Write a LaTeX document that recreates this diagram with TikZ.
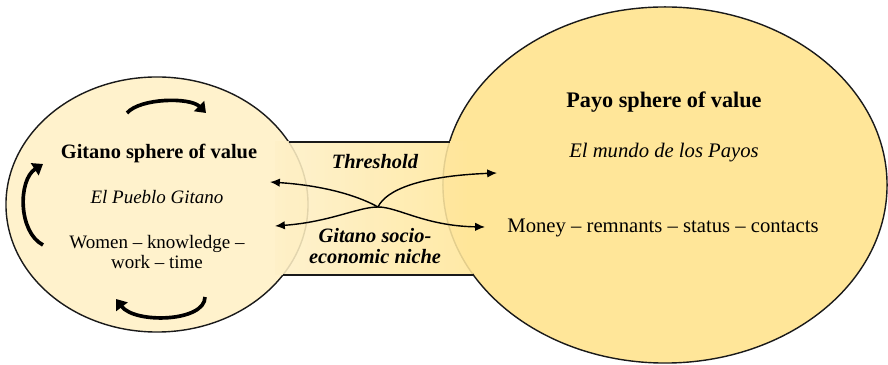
\documentclass[tikz,border=0pt]{standalone}
\usepackage{fontspec}
\setmainfont{Liberation Serif}
\usetikzlibrary{shapes.geometric,arrows.meta}
\definecolor{gitanoYellow}{HTML}{FFF2CC}
\definecolor{payoYellow}{HTML}{FFE699}
\definecolor{bandLight}{HTML}{FEF0C8}
\definecolor{lineGrey}{HTML}{1A1A1A}

\begin{document}
\begin{tikzpicture}[x=0.025cm, y=-0.025cm, >={Latex[length=7pt,width=6pt]}]

  \tikzstyle{S}=[ellipse, draw=lineGrey, line width=1pt, inner sep=0pt]
  \tikzstyle{L}=[font=\fontsize{13.5}{14.5}\selectfont, align=center]
  \tikzstyle{R}=[font=\fontsize{14.7}{16}\selectfont, align=center]
  \tikzstyle{M}=[font=\fontsize{14.5}{15.5}\selectfont\bfseries\itshape, align=center]
  \tikzstyle{cyc}=[line width=2.6pt, -{Triangle[length=7pt,width=10pt]}]
  \tikzstyle{swap}=[line width=1pt, <->]

  \useasboundingbox (0,0) rectangle (888,365);

  % the two spheres
  \node[S, fill=gitanoYellow, minimum width=7.55cm, minimum height=6.375cm] at (157,204.5) (gitano) {};
  \node[S, fill=payoYellow, minimum width=11.1cm, minimum height=8.9cm] at (665,185) (payo) {};

  % threshold band
  \shade[left color=bandLight, right color=payoYellow, fill opacity=0.88] (275,142) rectangle (473,275);
  \draw[lineGrey, line width=1pt] (288.6,142) -- (449.6,142);
  \draw[lineGrey, line width=1pt] (283,275) -- (473.5,275);

  % texts
  \node[L] at (159,153) (gitanoTitle) {\fontsize{14.5}{16}\selectfont\bfseries Gitano sphere of value};
  \node[L] at (157,197) (gitanoSub) {\itshape El Pueblo Gitano};
  \node[L] at (157,252) (gitanoGoods) {Women -- knowledge --\\work -- time};

  \node[R] at (664,102) (payoTitle) {\fontsize{15.8}{17}\selectfont\bfseries Payo sphere of value};
  \node[R] at (664,153) (payoSub) {\itshape El mundo de los Payos};
  \node[R] at (663,228) (payoGoods) {Money -- remnants -- status -- contacts};

  \node[M] at (375,162) (threshold) {Threshold};
  \node[M] at (375,246) (niche) {Gitano socio-\\economic niche};

  % exchange arrows
  \coordinate (uL) at (270,182);
  \coordinate (uR) at (497,173);
  \coordinate (lL) at (275,226);
  \coordinate (lR) at (485,227);
  \coordinate (cross) at (378,207);

  \draw[swap] (uL) .. controls (330,186) and (362,198) .. (cross) .. controls (386,190) and (420,176) .. (uR);
  \draw[swap] (lL) .. controls (330,222) and (358,207) .. (cross) .. controls (398,207) and (425,226) .. (lR);

  % circulation inside the Gitano sphere
  \coordinate (topS) at (127,113);
  \coordinate (topE) at (206,113);
  \coordinate (botS) at (205,297);
  \coordinate (botE) at (116,299);
  \coordinate (lefS) at (43,245);
  \coordinate (lefE) at (43,164);

  \draw[cyc] (topS) .. controls (140,98) and (190,97) .. (topE);
  \draw[cyc] (botS) .. controls (205,322) and (135,324) .. (botE);
  \draw[cyc] (lefS) .. controls (18,232) and (18,180) .. (lefE);

\end{tikzpicture}
\end{document}
